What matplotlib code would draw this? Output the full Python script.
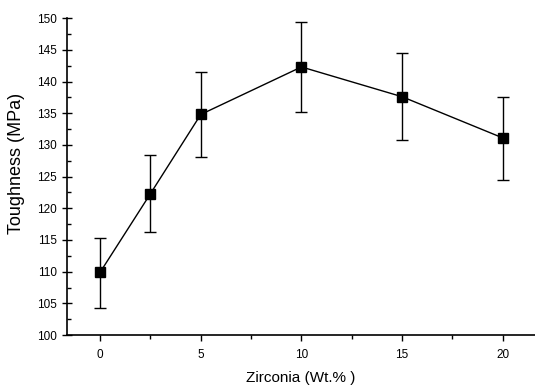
import matplotlib.pyplot as plt
import numpy as np

# zirconia content vs fracture toughness
zirconia = np.array([0, 2.5, 5, 10, 15, 20])
toughness = np.array([109.9, 122.3, 134.8, 142.3, 137.6, 131.1])
err_low = np.array([5.6, 6.1, 6.7, 7.1, 6.9, 6.7])
err_high = np.array([5.4, 6.1, 6.7, 7.1, 6.9, 6.5])

xticks = [0, 5, 10, 15, 20]
yticks = np.arange(100, 151, 5)

plt.rcParams['font.family'] = ['Liberation Sans', 'DejaVu Sans']

fig = plt.figure(figsize=(5.35, 3.86), dpi=100)
ax = fig.add_axes([0.125, 0.132, 0.875, 0.821])

ax.errorbar(zirconia, toughness, yerr=[err_low, err_high], color='black',
            marker='s', markersize=6.5, linewidth=1.0, elinewidth=1.0,
            capsize=4.5, capthick=1.0)

ax.set_xlim(-1.65, 21.6)
ax.set_ylim(100, 150)
ax.set_xticks(xticks)
ax.set_xticks([2.5, 7.5, 12.5, 17.5], minor=True)
ax.set_yticks(yticks)
ax.set_yticks(np.arange(102.5, 150, 5), minor=True)

ax.spines['top'].set_visible(False)
ax.spines['right'].set_visible(False)
ax.spines['left'].set_linewidth(1.2)
ax.spines['bottom'].set_linewidth(1.2)

ax.tick_params(axis='y', which='major', direction='inout', length=7, width=1, labelsize=8.5)
ax.tick_params(axis='y', which='minor', direction='in', length=3, width=1)
ax.tick_params(axis='x', which='major', direction='out', length=4, width=1, labelsize=8.5, pad=6)
ax.tick_params(axis='x', which='minor', direction='out', length=3, width=1)

ax.set_xlabel('Zirconia (Wt.% )', fontsize=11, labelpad=7)
ax.set_ylabel('Toughness (MPa)', fontsize=13)
ax.yaxis.set_label_coords(-0.09, 0.54)

fig.savefig('out.png', dpi=100)
